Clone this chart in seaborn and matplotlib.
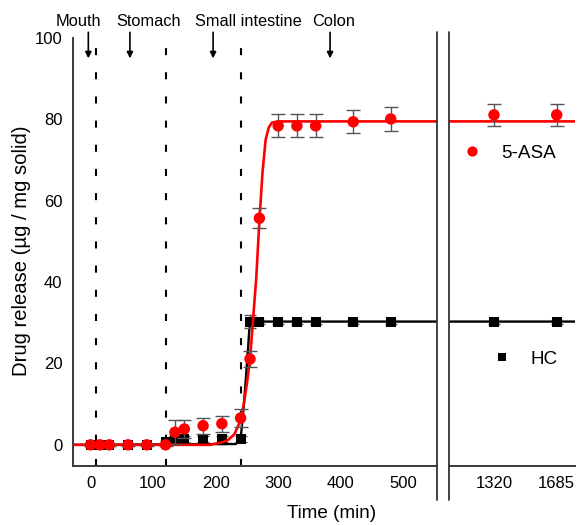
import matplotlib
matplotlib.use("Agg")
import matplotlib.pyplot as plt
import seaborn as sns
import pandas as pd
from matplotlib.lines import Line2D

# ---------------- data ----------------
time_min = [0, 15, 30, 60, 90, 120, 135, 150, 180, 210, 240, 255, 270,
            300, 330, 360, 420, 480, 1320, 1685]
asa_release = [0, 0, 0, 0, 0, 0, 3.1, 3.9, 4.7, 5.2, 6.6, 21.1, 55.7,
               78.4, 78.4, 78.4, 79.4, 80.1, 81.1, 81.1]
asa_sd = [0.2, 0.2, 0.2, 0.2, 0.2, 0.2, 3.0, 2.2, 2.0, 2.0, 2.2, 2.0, 2.5,
          2.8, 2.8, 2.8, 2.8, 2.9, 2.7, 2.7]
hc_release = [0, 0, 0, 0, 0, 0.6, 1.4, 1.4, 1.4, 1.4, 1.4, 30.3, 30.3,
              30.3, 30.3, 30.3, 30.3, 30.3, 30.3, 30.3]
hc_sd = [0.2, 0.2, 0.2, 0.2, 0.2, 0.4, 0.8, 0.8, 0.8, 0.8, 0.8, 1.5, 0.5,
         0.5, 0.5, 0.5, 0.5, 0.5, 0.5, 0.5]

# fitted curves
asa_fit_t = [-30, 190, 200, 210, 220, 230, 240, 245, 250, 255, 260, 265,
             270, 275, 280, 285, 290, 300, 1800]
asa_fit_v = [0, 0, 0.3, 0.6, 1.2, 2.6, 6.0, 10, 15, 21, 31, 41,
             55, 67, 75, 78, 79.2, 79.5, 79.5]
hc_fit_t = [-30, 232, 238, 241, 245, 249, 252, 254, 256, 260, 1800]
hc_fit_v = [0, 0.2, 0.8, 3, 9.5, 17.5, 24, 28.5, 30, 30.3, 30.3]

left_ticks = [0, 100, 200, 300, 400, 500]
right_ticks = [1320, 1685]
y_ticks = [0, 20, 40, 60, 80, 100]
phase_bounds = [8, 120, 240]
phase_labels = ["Mouth", "Stomach", "Small intestine", "Colon"]
phase_arrow_t = [-3.5, 63, 196, 383]
phase_label_t = [-19.5, 93.5, 252, 389]

df = pd.DataFrame({"t": time_min, "asa": asa_release, "asa_sd": asa_sd,
                   "hc": hc_release, "hc_sd": hc_sd})
fit_asa = pd.DataFrame({"t": asa_fit_t, "v": asa_fit_v})
fit_hc = pd.DataFrame({"t": hc_fit_t, "v": hc_fit_v})

# ---------------- style ----------------
sns.set_style("white")
plt.rcParams["font.family"] = ["Liberation Sans", "DejaVu Sans"]
plt.rcParams["text.color"] = "black"
plt.rcParams["xtick.color"] = "black"
plt.rcParams["ytick.color"] = "black"
plt.rcParams["axes.labelcolor"] = "black"
SPINE = "#3a3a3a"
W, H = 581, 526

fig = plt.figure(figsize=(W / 100, H / 100), dpi=100)
ax = fig.add_axes([73 / W, 1 - 466 / H, 364 / W, 428 / H])
ax2 = fig.add_axes([449 / W, 1 - 466 / H, 126 / W, 428 / H])


def draw(a):
    sns.lineplot(data=fit_hc, x="t", y="v", ax=a, color="black", lw=1.7,
                 estimator=None, sort=False, zorder=2)
    a.errorbar(df["t"], df["hc"], yerr=df["hc_sd"], fmt="none",
               ecolor="#555555", elinewidth=1, capsize=4.5, capthick=1,
               zorder=3)
    sns.scatterplot(data=df, x="t", y="hc", ax=a, marker="s", color="black",
                    s=52, edgecolor="none", zorder=3.5)
    sns.lineplot(data=fit_asa, x="t", y="v", ax=a, color="#ff0000", lw=1.9,
                 estimator=None, sort=False, zorder=4)
    a.errorbar(df["t"], df["asa"], yerr=df["asa_sd"], fmt="none",
               ecolor="#555555", elinewidth=1, capsize=4.8, capthick=1,
               zorder=5)
    sns.scatterplot(data=df, x="t", y="asa", ax=a, marker="o",
                    color="#ff0000", s=68, edgecolor="none", zorder=6)


draw(ax)
draw(ax2)

for a in (ax, ax2):
    a.set_ylim(-5.2, 100)
    a.set_xlabel("")
    a.set_ylabel("")
    a.tick_params(length=0, labelsize=12, pad=7.5, colors="black")
    for s in ("top", "right"):
        a.spines[s].set_visible(False)
    a.spines["bottom"].set_color(SPINE)
    a.spines["bottom"].set_linewidth(1.4)

ax.set_xlim(-28, 554)
ax.set_xticks(left_ticks)
ax.set_yticks(y_ticks)
ax.spines["left"].set_color(SPINE)
ax.spines["left"].set_linewidth(1.4)

ax2.set_xlim(1058, 1791.5)
ax2.set_xticks(right_ticks)
ax2.set_yticks([])
ax2.spines["left"].set_visible(False)

# phase boundaries
ax.vlines(phase_bounds, -5.2, 98, colors="black", lw=1.5,
          linestyles=[(0, (3.4, 8.2))], zorder=1)

# phase annotations
for lab, ta, tl in zip(phase_labels, phase_arrow_t, phase_label_t):
    ax.annotate("", xy=(ta, 95), xytext=(ta, 101.4),
                arrowprops=dict(arrowstyle="-|>", color="black", lw=1.2,
                                mutation_scale=9, shrinkA=0, shrinkB=0),
                annotation_clip=False)
    ax.text(tl, 104, lab, ha="center", va="center", fontsize=11.8,
            color="black", clip_on=False)

# legends
h_asa = Line2D([], [], marker="o", color="#ff0000", linestyle="none",
               markersize=7.4, markeredgewidth=0)
h_hc = Line2D([], [], marker="s", color="black", linestyle="none",
              markersize=5.6, markeredgewidth=0)
leg1 = ax2.legend(handles=[h_asa], labels=["5-ASA"], loc="center left",
                  bbox_to_anchor=(0.111, 0.7306), frameon=False,
                  fontsize=13.6, handlelength=1.0, handletextpad=1.05,
                  borderpad=0, borderaxespad=0, labelcolor="black")
ax2.add_artist(leg1)
ax2.legend(handles=[h_hc], labels=["HC"], loc="center left",
           bbox_to_anchor=(0.344, 0.25), frameon=False, fontsize=13.6,
           handlelength=1.0, handletextpad=1.0, borderpad=0,
           borderaxespad=0, labelcolor="black")

# axis break lines
for xp in (437, 449):
    fig.add_artist(Line2D([xp / W, xp / W], [1 - 32 / H, 1 - 500 / H],
                          transform=fig.transFigure, color="#333333",
                          lw=1.3))

fig.text(22 / W, 1 - 251 / H, "Drug release (µg / mg solid)", rotation=90,
         ha="center", va="center", fontsize=14.6, color="black")
fig.text(332 / W, 1 - 513 / H, "Time (min)", ha="center", va="center",
         fontsize=13.6, color="black")

fig.savefig("out.png", dpi=100)
